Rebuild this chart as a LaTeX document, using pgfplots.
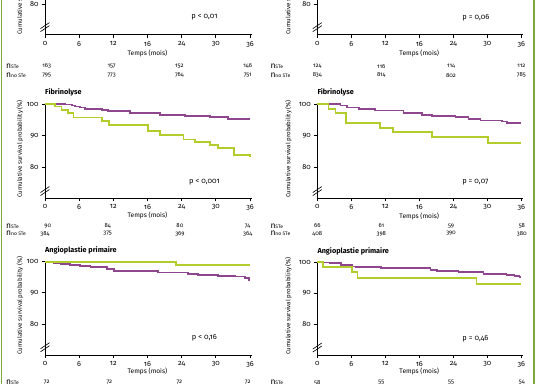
\documentclass[border=0pt]{standalone}
\usepackage{pgfplots}
\pgfplotsset{compat=1.18}
\usepackage{fontspec}
\setmainfont{Fira Sans}[Numbers=OldStyle]
\definecolor{kmpurple}{RGB}{142,70,142}
\definecolor{kmgreen}{RGB}{178,204,44}
\definecolor{bordergreen}{RGB}{125,168,60}
\newcommand{\nste}{{\fontsize{8.5}{9}\selectfont n}{\fontsize{5}{6}\selectfont STe}}
\newcommand{\nnoste}{{\fontsize{8.5}{9}\selectfont n}{\fontsize{5}{6}\selectfont no STe}}
\pgfplotsset{
  km/.style={
    xmin=0, xmax=36.3, ymax=100.3,
    axis x line*=bottom, axis y line*=left,
    axis line style={-, line width=0.7bp},
    xtick={0,6,12,18,24,30,36}, xticklabels={0,6,12,16,24,30,36},
    ytick={80,90,100}, tick align=outside, major tick length=3bp,
    tick style={line width=0.7bp, black},
    ticklabel style={font=\fontsize{7.3}{8}\selectfont},
    /pgf/number format/assume math mode=true,
    clip=false,
    every axis plot/.append style={const plot, line width=1.7bp, no marks},
  },
}
\tikzset{
  nnum/.style={font=\fontsize{6}{7}\selectfont},
  ptext/.style={font=\fontsize{7.5}{8}\selectfont},
  tlab/.style={font=\fontsize{6.6}{7}\selectfont},
  ylab/.style={font=\fontsize{6.2}{7}\selectfont, rotate=90},
  ptitle/.style={font=\bfseries\fontsize{7.3}{8}\selectfont, anchor=west, inner sep=0pt},
}
\begin{document}
\begin{tikzpicture}
\path[use as bounding box] (0,0) rectangle (538bp,-384bp);
\clip (0,0) rectangle (538bp,-384bp);
\draw[bordergreen, line width=1.3bp] (1.5bp,0) -- (1.5bp,-384bp);
\draw[bordergreen, line width=1.3bp] (534bp,0) -- (534bp,-384bp);

% ---------- top left ----------
\begin{axis}[km, x=5.694bp, y=3.165bp, ymin=70.3, anchor=south west, at={(45bp,-34.7bp)}]
\draw[line width=0.6bp] ([shift={(-4.5bp,-4.5bp)}]axis cs:0,72.7) -- ++(9bp,6bp);
\draw[line width=0.6bp] ([shift={(-4.5bp,-1.5bp)}]axis cs:0,72.7) -- ++(9bp,6bp);
\node[ptext] at (axis cs:28,75.8) {p < 0,01};
\node[ylab] at ([xshift=-25bp]axis cs:0,85.8) {Cumulative survival probability (\%)};
\node[tlab] at ([yshift=-18.3bp]axis cs:18,70.3) {Temps (mois)};
\node[anchor=west, inner sep=0pt] at ([shift={(-39bp,-31.5bp)}]axis cs:0,70.3) {\nste};
\node[anchor=west, inner sep=0pt] at ([shift={(-39bp,-40.5bp)}]axis cs:0,70.3) {\nnoste};
\node[nnum] at ([yshift=-31.5bp]axis cs:0.3,70.3) {163};
\node[nnum] at ([yshift=-31.5bp]axis cs:11.7,70.3) {157};
\node[nnum] at ([yshift=-31.5bp]axis cs:23.6,70.3) {152};
\node[nnum] at ([yshift=-31.5bp]axis cs:35.6,70.3) {146};
\node[nnum] at ([yshift=-40.5bp]axis cs:0.3,70.3) {795};
\node[nnum] at ([yshift=-40.5bp]axis cs:11.7,70.3) {773};
\node[nnum] at ([yshift=-40.5bp]axis cs:23.6,70.3) {764};
\node[nnum] at ([yshift=-40.5bp]axis cs:35.6,70.3) {751};
\end{axis}

% ---------- top right ----------
\begin{axis}[km, x=5.667bp, y=3.165bp, ymin=70.3, anchor=south west, at={(317.3bp,-34.7bp)}]
\draw[line width=0.6bp] ([shift={(-4.5bp,-4.5bp)}]axis cs:0,72.7) -- ++(9bp,6bp);
\draw[line width=0.6bp] ([shift={(-4.5bp,-1.5bp)}]axis cs:0,72.7) -- ++(9bp,6bp);
\node[ptext] at (axis cs:28,75.8) {p = 0,06};
\node[ylab] at ([xshift=-29bp]axis cs:0,85.8) {Cumulative survival probability (\%)};
\node[tlab] at ([yshift=-18.3bp]axis cs:18,70.3) {Temps (mois)};
\node[anchor=west, inner sep=0pt] at ([shift={(-47bp,-31.5bp)}]axis cs:0,70.3) {\nste};
\node[anchor=west, inner sep=0pt] at ([shift={(-47bp,-40.5bp)}]axis cs:0,70.3) {\nnoste};
\node[nnum] at ([yshift=-31.5bp]axis cs:0,70.3) {124};
\node[nnum] at ([yshift=-31.5bp]axis cs:11.3,70.3) {116};
\node[nnum] at ([yshift=-31.5bp]axis cs:23.6,70.3) {114};
\node[nnum] at ([yshift=-31.5bp]axis cs:36,70.3) {112};
\node[nnum] at ([yshift=-40.5bp]axis cs:0,70.3) {834};
\node[nnum] at ([yshift=-40.5bp]axis cs:11.3,70.3) {814};
\node[nnum] at ([yshift=-40.5bp]axis cs:23.6,70.3) {802};
\node[nnum] at ([yshift=-40.5bp]axis cs:36,70.3) {785};
\end{axis}

% ---------- middle left: Fibrinolyse ----------
\begin{axis}[km, x=5.694bp, y=3.165bp, ymin=70.2, anchor=south west, at={(45bp,-198.3bp)}]
\addplot[kmpurple] coordinates {(0,100) (3.5,99.8) (4.7,99.5) (5.3,99.2) (6.1,98.9) (7.0,98.4) (10,98.1) (11.1,97.8) (14.9,97.2) (20.2,96.6) (24.6,96.1) (29,95.8) (32.2,95.2) (36,95.2)};
\addplot[kmgreen] coordinates {(0,100) (1.8,99.2) (2.9,98.1) (4.1,97.1) (5.0,95.7) (10,94.7) (11.2,93.4) (18.1,91.4) (20.2,90.1) (24.3,88.8) (26.3,87.9) (29,87.0) (30.4,86.1) (33.2,83.8) (36,83.2)};
\draw[line width=0.6bp] ([shift={(-4.5bp,-4.5bp)}]axis cs:0,72.5) -- ++(9bp,6bp);
\draw[line width=0.6bp] ([shift={(-4.5bp,-1.5bp)}]axis cs:0,72.5) -- ++(9bp,6bp);
\node[ptitle] at ([yshift=12bp]axis cs:0,100) {Fibrinolyse};
\node[ptext] at (axis cs:28,75.4) {p < 0,001};
\node[ylab] at ([xshift=-25bp]axis cs:0,85.8) {Cumulative survival probability (\%)};
\node[tlab] at ([yshift=-17.5bp]axis cs:18,70.2) {Temps (mois)};
\node[anchor=west, inner sep=0pt] at ([shift={(-39bp,-27.5bp)}]axis cs:0,70.2) {\nste};
\node[anchor=west, inner sep=0pt] at ([shift={(-39bp,-35.3bp)}]axis cs:0,70.2) {\nnoste};
\node[nnum] at ([yshift=-27.5bp]axis cs:0.5,70.2) {90};
\node[nnum] at ([yshift=-27.5bp]axis cs:11,70.2) {84};
\node[nnum] at ([yshift=-27.5bp]axis cs:23.7,70.2) {80};
\node[nnum] at ([yshift=-27.5bp]axis cs:35.6,70.2) {74};
\node[nnum] at ([yshift=-35.3bp]axis cs:0,70.2) {384};
\node[nnum] at ([yshift=-35.3bp]axis cs:11,70.2) {375};
\node[nnum] at ([yshift=-35.3bp]axis cs:23.7,70.2) {369};
\node[nnum] at ([yshift=-35.3bp]axis cs:35.6,70.2) {364};
\end{axis}

% ---------- middle right: Fibrinolyse ----------
\begin{axis}[km, x=5.667bp, y=3.165bp, ymin=70.2, anchor=south west, at={(317.3bp,-198.3bp)}]
\addplot[kmpurple] coordinates {(0,100) (4.1,99.5) (5.2,98.9) (7.3,98.4) (10.2,97.9) (15.2,97.2) (18.5,96.6) (20.2,96.3) (24.4,95.8) (26.7,95.3) (28.8,94.8) (32.6,94.5) (33.5,94.0) (36,94.0)};
\addplot[kmgreen] coordinates {(0,100) (2.0,98.5) (3.2,97.2) (5.1,94.0) (11.1,92.4) (13.3,91.2) (20.2,89.6) (30.1,87.7) (36,87.7)};
\draw[line width=0.6bp] ([shift={(-4.5bp,-4.5bp)}]axis cs:0,72.5) -- ++(9bp,6bp);
\draw[line width=0.6bp] ([shift={(-4.5bp,-1.5bp)}]axis cs:0,72.5) -- ++(9bp,6bp);
\node[ptitle] at ([yshift=12bp]axis cs:0,100) {Fibrinolyse};
\node[ptext] at (axis cs:27.9,75.3) {p = 0,07};
\node[ylab] at ([xshift=-29bp]axis cs:0,85.8) {Cumulative survival probability (\%)};
\node[tlab] at ([yshift=-18bp]axis cs:18,70.2) {Temps (mois)};
\node[anchor=west, inner sep=0pt] at ([shift={(-47bp,-27.5bp)}]axis cs:0,70.2) {\nste};
\node[anchor=west, inner sep=0pt] at ([shift={(-47bp,-35.3bp)}]axis cs:0,70.2) {\nnoste};
\node[nnum] at ([yshift=-27.5bp]axis cs:0,70.2) {66};
\node[nnum] at ([yshift=-27.5bp]axis cs:11.3,70.2) {61};
\node[nnum] at ([yshift=-27.5bp]axis cs:23.6,70.2) {59};
\node[nnum] at ([yshift=-27.5bp]axis cs:36.1,70.2) {58};
\node[nnum] at ([yshift=-35.3bp]axis cs:0,70.2) {408};
\node[nnum] at ([yshift=-35.3bp]axis cs:11.3,70.2) {398};
\node[nnum] at ([yshift=-35.3bp]axis cs:23.6,70.2) {390};
\node[nnum] at ([yshift=-35.3bp]axis cs:36.1,70.2) {380};
\end{axis}

% ---------- bottom left: Angioplastie primaire ----------
\begin{axis}[km, x=5.694bp, y=3.11bp, ymin=70, anchor=south west, at={(45bp,-355bp)}]
\addplot[kmpurple] coordinates {(0,100) (0.9,99.7) (1.5,99.5) (2.7,99.3) (4.4,99.0) (6.2,98.6) (8,98.2) (10.9,97.6) (12.1,97.1) (16.8,97.0) (19.8,96.5) (25.1,96.1) (26.9,95.7) (30.4,95.4) (33.4,95.2) (35.1,94.7) (35.8,94.1) (36,94.1)};
\addplot[kmgreen] coordinates {(0,100) (23.0,98.9) (36,98.9)};
\draw[line width=0.6bp] ([shift={(-4.5bp,-4.5bp)}]axis cs:0,72.5) -- ++(9bp,6bp);
\draw[line width=0.6bp] ([shift={(-4.5bp,-1.5bp)}]axis cs:0,72.5) -- ++(9bp,6bp);
\node[ptitle] at ([yshift=11bp]axis cs:0,100) {Angioplastie primaire};
\node[ptext] at (axis cs:28,75.4) {p < 0,16};
\node[ylab] at ([xshift=-25bp]axis cs:0,85.9) {Cumulative survival probability (\%)};
\node[tlab] at ([yshift=-16.5bp]axis cs:18,70) {Temps (mois)};
\node[anchor=west, inner sep=0pt] at ([shift={(-39bp,-27.3bp)}]axis cs:0,70) {\nste};
\node[anchor=west, inner sep=0pt] at ([shift={(-39bp,-35.3bp)}]axis cs:0,70) {\nnoste};
\node[nnum] at ([yshift=-27.3bp]axis cs:0.3,70) {72};
\node[nnum] at ([yshift=-27.3bp]axis cs:11.3,70) {72};
\node[nnum] at ([yshift=-27.3bp]axis cs:23.6,70) {72};
\node[nnum] at ([yshift=-27.3bp]axis cs:35.6,70) {72};
\end{axis}

% ---------- bottom right: Angioplastie primaire ----------
\begin{axis}[km, x=5.667bp, y=3.11bp, ymin=70, anchor=south west, at={(317.3bp,-355.3bp)}]
\addplot[kmpurple] coordinates {(0,100) (1,99.8) (2.2,99.6) (4.2,99.1) (6.1,98.6) (6.8,98.4) (11.2,98.1) (20,97.5) (21.1,97.1) (24.9,96.8) (29.3,96.1) (33.4,95.9) (34.8,95.6) (35.7,95.1) (36,95.1)};
\addplot[kmgreen] coordinates {(0,100) (1,98.4) (6.1,96.7) (7.1,94.8) (28.1,93.0) (36,93.0)};
\draw[line width=0.6bp] ([shift={(-4.5bp,-4.5bp)}]axis cs:0,72.5) -- ++(9bp,6bp);
\draw[line width=0.6bp] ([shift={(-4.5bp,-1.5bp)}]axis cs:0,72.5) -- ++(9bp,6bp);
\node[ptitle] at ([yshift=11bp]axis cs:0,100) {Angioplastie primaire};
\node[ptext] at (axis cs:27.9,75.3) {p = 0,46};
\node[ylab] at ([xshift=-29bp]axis cs:0,85.9) {Cumulative survival probability (\%)};
\node[tlab] at ([yshift=-16.5bp]axis cs:18,70) {Temps (mois)};
\node[anchor=west, inner sep=0pt] at ([shift={(-47bp,-27.3bp)}]axis cs:0,70) {\nste};
\node[anchor=west, inner sep=0pt] at ([shift={(-47bp,-35.3bp)}]axis cs:0,70) {\nnoste};
\node[nnum] at ([yshift=-27.3bp]axis cs:0,70) {58};
\node[nnum] at ([yshift=-27.3bp]axis cs:11.3,70) {55};
\node[nnum] at ([yshift=-27.3bp]axis cs:23.6,70) {55};
\node[nnum] at ([yshift=-27.3bp]axis cs:36.1,70) {54};
\end{axis}
\end{tikzpicture}
\end{document}
